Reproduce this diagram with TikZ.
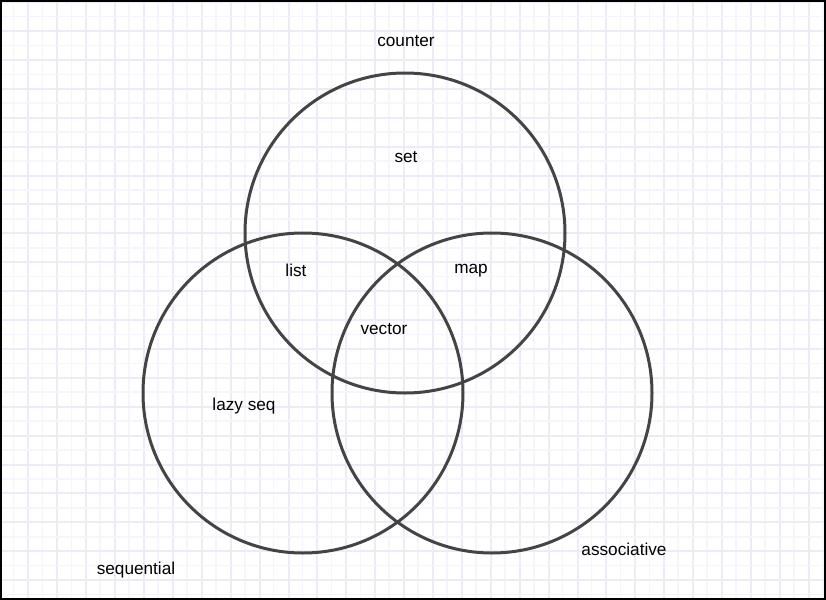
\documentclass[tikz,border=0pt]{standalone}
\usepackage{fontspec}
\setmainfont{Liberation Sans}
\usepackage{tikz}

\definecolor{gridmajor}{RGB}{236,236,246}
\definecolor{gridminor}{RGB}{245,245,251}
\definecolor{ringgray}{RGB}{68,68,68}

\tikzset{
	majorline/.style={draw=gridmajor,line width=1pt},
	minorline/.style={draw=gridminor,line width=0.8pt},
	ring/.style={draw=ringgray,circle,line width=1.5pt,minimum size=160pt,inner sep=0pt},
	lbl/.style={font=\fontsize{8.6}{10}\selectfont,inner sep=1pt}
}

\begin{document}
\begin{tikzpicture}[x=0.5pt,y=-0.5pt]
		\useasboundingbox (0,0) rectangle (826,600);
		\fill[white] (0,0) rectangle (826,600);
		
		% grid paper
		\foreach \k in {0,...,28} {
			\draw[minorline] ({13.5+\k*28.9},0) -- ({13.5+\k*28.9},600);
			\draw[majorline] ({28.4+\k*28.9},0) -- ({28.4+\k*28.9},600);
		}
		\foreach \k in {0,...,20} {
			\draw[minorline] (0,{16.5+\k*28.9}) -- (826,{16.5+\k*28.9});
			\draw[majorline] (0,{2.1+\k*28.9}) -- (826,{2.1+\k*28.9});
		}
		
		\node[ring](counter)at(405,233) {};
		\node[ring](sequential)at(303,393) {};
		\node[ring](associative)at(492,393) {};
		
		\node[lbl](countertxt)at(406,41) {counter};
		\node[lbl](set)at(406,157) {set};
		\node[lbl](list)at(296,270) {list};
		\node[lbl](map)at(471,271) {map};
		\node[lbl](vector)at(384,329) {vector};
		\node[lbl](lazyseq)at(244,406) {lazy seq};
		\node[lbl](associativetxt)at(624,549) {associative};
		\node[lbl](sequentialtxt)at(136,570) {sequential};
		
		\draw[black,line width=1pt] (1,1) rectangle (825,599);
	\end{tikzpicture}
\end{document}
